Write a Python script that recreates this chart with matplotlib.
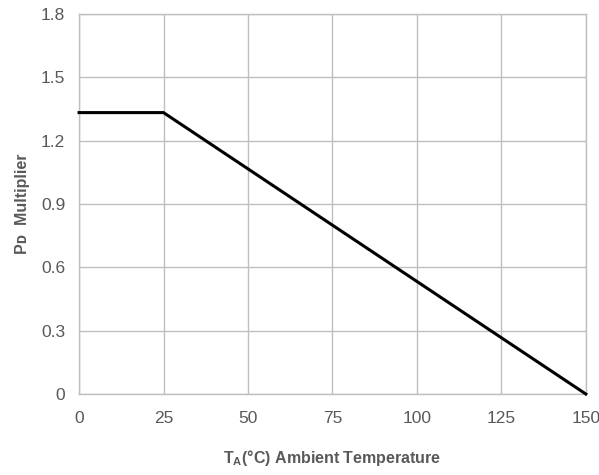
import matplotlib
matplotlib.use("Agg")
import matplotlib.pyplot as plt

plt.rcParams['font.family'] = ['Liberation Sans', 'DejaVu Sans']
plt.rcParams['mathtext.fontset'] = 'custom'
plt.rcParams['mathtext.bf'] = 'Liberation Sans:bold'
plt.rcParams['mathtext.rm'] = 'Liberation Sans'

temperature = [0, 25, 150]
multiplier = [1.333, 1.333, 0.0]
x_ticks = [0, 25, 50, 75, 100, 125, 150]
y_ticks = [0, 0.3, 0.6, 0.9, 1.2, 1.5, 1.8]
y_tick_labels = ["0", "0.3", "0.6", "0.9", "1.2", "1.5", "1.8"]

fig = plt.figure(figsize=(5.99, 4.75), dpi=100)
ax = fig.add_axes([0.132, 0.1705, 0.846, 0.8])

ax.plot(temperature, multiplier, color='black', lw=2.2, solid_joinstyle='miter', zorder=3, clip_on=False)
ax.set_xlim(0, 150)
ax.set_ylim(0, 1.8)
ax.set_xticks(x_ticks)
ax.set_yticks(y_ticks)
ax.set_yticklabels(y_tick_labels)
ax.grid(True, color='#bfbfbf', lw=1.0)
ax.set_axisbelow(True)
for s in ax.spines.values():
    s.set_color('#bfbfbf')
    s.set_linewidth(1.0)
ax.tick_params(length=0, labelsize=12.5, colors='#595959', pad=10)
ax.tick_params(axis='x', pad=12)

ax.set_xlabel(r"$\mathbf{T_A}$(°C) Ambient Temperature", fontsize=11.5, fontweight='bold', color='#595959', labelpad=16)
ax.set_ylabel("Pᴅ  Multiplier", fontsize=11.5, fontweight='bold', color='#595959', labelpad=8)

fig.savefig("out.png", dpi=100)
